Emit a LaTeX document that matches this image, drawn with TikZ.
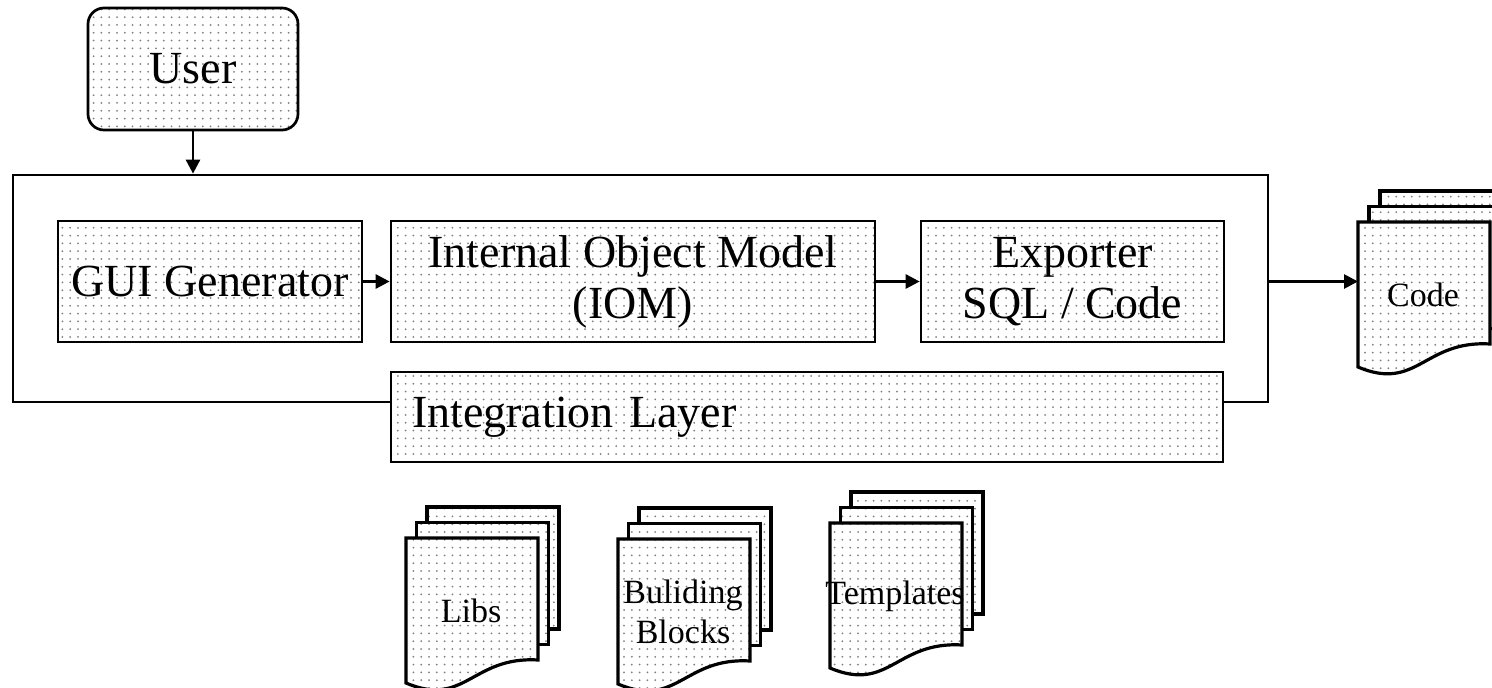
\documentclass[tikz,border=0pt]{standalone}
\usepackage{fontspec}
\setmainfont{Liberation Serif}
\usetikzlibrary{arrows.meta,patterns}
\pgfdeclarepatternformonly{dotgrid}{\pgfqpoint{-1.2pt}{-1.2pt}}{\pgfqpoint{1.2pt}{1.2pt}}{\pgfqpoint{7.8pt}{7.8pt}}{\pgfpathcircle{\pgfpointorigin}{1pt}\pgfusepath{fill}}
\newcommand\bigfont{\fontsize{46}{51}\selectfont}
\newcommand\smallfont{\fontsize{34}{40}\selectfont}
\tikzset{
  dotfill/.style={preaction={fill=white}, pattern=dotgrid, pattern color=black!50},
  box/.style={draw, line width=2.7pt, dotfill, inner sep=0pt, align=center, font=\bigfont},
  frame/.style={draw, line width=2.7pt, inner sep=0pt},
  page/.style={draw, line width=3.2pt, dotfill, line join=miter},
  doclabel/.style={inner sep=0pt, align=center, font=\smallfont},
  arr/.style={line width=2.7pt, -{Triangle[length=14pt,width=14pt]}},
}
\newcommand\docstack[5]{%
  \draw[page] (#2+#5*2,#3-31) rectangle ++(132,122);
  \draw[page] (#2+#5,#3-15.5) rectangle ++(132,122);
  \draw[page] (#2,#3) -- ++(132,0) -- ++(0,122) .. controls +(-66,-4) and +(59,25) .. ++(-132,23) -- cycle;
  \coordinate (#1-l) at (#2,#3+61);
  \node[doclabel] (#1) at (#2+65,#3+73) {#4};
}
\begin{document}
\begin{tikzpicture}[x=1pt,y=-1pt]
\useasboundingbox (0,0) rectangle (1492,688);
\clip (0,0) rectangle (1492,688);
% user
\node[box, rounded corners=16pt, minimum width=210, minimum height=122] (user) at (193,69) {User};
% system frame
\node[frame, minimum width=1255, minimum height=227] (sys) at (640.5,288.5) {};
% inner blocks
\node[box, minimum width=304, minimum height=121] (gui) at (210,281.5) {GUI Generator};
\node[box, minimum width=484, minimum height=121] (iom) at (633,281.5) {Internal Object Model\\(IOM)};
\node[box, minimum width=303, minimum height=121] (exp) at (1072.5,281.5) {Exporter\\SQL / Code};
\node[box, minimum width=832, minimum height=90, text width=790, align=left] (integ) at (807,417) {Integration Layer};
% document stacks
\docstack{code}{1358}{222}{Code}{11}
\docstack{libs}{406}{538}{Libs}{10.5}
\docstack{blocks}{618}{539}{Buliding\\Blocks}{10.5}
\docstack{tmpl}{830}{523}{Templates}{10.5}
% connectors
\draw[arr] (user.south) -- (user.south |- sys.north);
\draw[arr] (gui.east) -- (iom.west);
\draw[arr] (iom.east) -- (exp.west);
\draw[arr] (sys.east |- gui.east) -- (code-l |- gui.east);
\end{tikzpicture}
\end{document}
